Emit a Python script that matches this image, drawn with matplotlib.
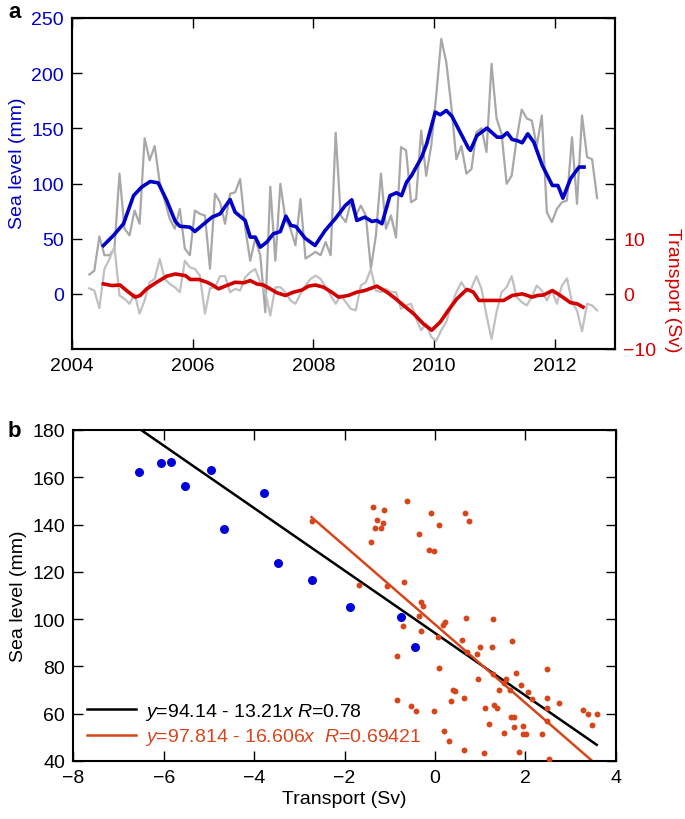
import numpy as np
import matplotlib
matplotlib.use("Agg")
import matplotlib.pyplot as plt

plt.rcParams['font.family'] = ['Liberation Sans', 'DejaVu Sans']
plt.rcParams['mathtext.fontset'] = 'custom'
plt.rcParams['mathtext.rm'] = 'Liberation Sans'
plt.rcParams['mathtext.it'] = 'Liberation Sans:italic'

# ---------------- Panel a data (monthly, starting ~Apr 2004) ----------------
t0 = 2004.287
sea_level_raw = [17.5, 21, 52, 35, 35, 41, 109, 59, 53, 75.5, 63.5, 141, 121, 134, 101, 84.6,
                 68, 59, 77, 41, 35, 75.5, 72.5, 71, 22.7,
                 90.7, 83, 63.5, 90.7, 92, 104, 60, 30, 50, 35, -16.6, 97, 30, 99.7, 68, 59,
                 44, 86, 32, 35, 38, 35, 47, 35, 146,
                 71, 65, 83, 71, 80, 71, 22.7, 53, 109, 59, 71, 51, 133, 130, 83, 86, 148,
                 107, 134, 180, 231, 210, 170, 122, 134, 109, 113,
                 146.6, 150, 128.5, 208.5, 159, 145, 99.7, 107, 140.5, 167, 159, 157, 134,
                 161.6, 74, 65, 77, 83, 84.6, 142, 81.6, 161.6, 124, 122, 86.7]
transport_raw = [1.0, 0.6, -2.6, 4.5, 6.3, 8.5, -0.3, -0.9, -1.8, 0, -3.6, -1.2, 2.1, 2.7, 6.3,
                 2.7, 1.8, 1.2, 0.3, 6.0, 4.8, 4.5, 3.3, -3.6, 1.0,
                 1.2, 3.2, 3.2, 0.3, 0.9, 0.6, 3.0, 3.9, 4.5, 2.1, 0.3, -3.9, 1.2, 1.2, 0.3,
                 -1.2, -1.8, 0, 1.5, 2.7, 3.3, 2.7, 1.2, -0.3, -1.8,
                 -0.3, -1.5, -2.7, -3.0, 1.5, 2.1, 4.5, 0.6, 0.3, 0.9, 0.3, 0.3, -2.7, -2.1,
                 -1.8, -4.5, -6.6, -5.4, -7.8, -8.5, -6.6, -5.1, -2.1, 0.3, 2.1, 0.6, 1.0,
                 3.2, 0.9, -3.9, -8.2, -3.3, 0.3, 1.2, 3.2, -0.6, -1.5, -2.1, -0.6, 1.5, 0.6,
                 -1.2, 0.6, -1.8, 1.5, 2.8, -1.5, -3.0, -6.8, -1.8, -2.1, -3.0]

sl_smooth_month = [2.8, 4.8, 6.8, 8.8, 10.4, 12.1, 13.7, 15.4, 17.1, 18.0, 20.0, 21.0, 22.4, 24.4,
                   26, 28, 29, 31, 32, 33, 34, 35.3, 36.6, 38, 39.1, 40.1, 41.1, 42.9, 44.9,
                   46.9, 48.9, 50.9, 52.2, 53.2, 54.8, 56.2, 57.2, 58.2, 59.8, 61.1, 62.1, 63.1,
                   64.1, 66.1, 67.1, 68.8, 69.8, 71, 72.1, 74.1, 75.4, 75.8, 77.1, 79.1, 81.1,
                   82.1, 83.1, 84.1, 85.1, 86.1, 87.2, 88.4, 90.1, 92.1, 93.2, 94.2, 95.7, 97.4, 98.4]
sl_smooth = [43.8, 52.9, 63.5, 89, 96.7, 101.8, 100.6, 84.6, 65.6, 61.3, 60.4, 56.5, 61.9, 69.5,
             72.5, 85.5, 74, 66.5, 51.4, 51.4, 42.3, 46.9, 54.4, 56.5, 70.4, 62, 61, 50.5, 43.8,
             57.4, 68, 80, 85.2, 66.5, 69.5, 65.6, 66.5, 63.5, 89, 91.6, 89, 101.3,
             107.3, 123.9, 136, 164.7, 162.3, 166.2, 161.1, 143.5, 132.1, 130, 143.5, 150.2, 142,
             142, 146, 139.9, 138.9, 136.9, 145, 137.5, 116.3, 98.2, 98.2, 86.7, 104.3, 114.9, 114.9]

tr_smooth_month = [2.8, 4.5, 6.1, 7.4, 9.1, 10.1, 11.4, 13.4, 15.4, 17.1, 19.1, 20.1, 21.8, 23.4,
                   24.5, 25.7, 27.3, 29, 30.7, 32, 33.3, 34.6, 36, 37.3, 39, 40.6, 42.3, 43.6,
                   45, 46.6, 48.2, 49.6, 51.5, 53.2, 54.8, 57.2, 59.2, 60.8, 62.5, 64.5, 66.4,
                   68.1, 69.8, 71.4, 73.1, 75.1, 76.4, 77.5, 79.1, 82.4, 84.1, 86.1, 88.1, 89.1,
                   90.4, 92.1, 93.7, 95.7, 97.0, 98.2]
tr_smooth = [1.8, 1.5, 1.6, 0.6, -0.6, -0.3, 0.9, 2.1, 3.2, 3.6, 3.3, 2.6, 2.6, 2.1,
             1.6, 0.9, 1.5, 2.1, 2.0, 2.4, 1.8, 1.6, 0.9, 0.2, -0.3, 0.3, 0.7, 1.4,
             1.6, 1.2, 0.3, -0.6, -0.3, 0.3, 0.6, 1.4, 0.3, -0.8, -2.1, -3.6, -5.4,
             -6.6, -5.1, -3.0, -0.9, 0.8, 0.3, -1.2, -1.2, -1.2, -0.3, 0, -0.6, -0.3,
             -0.2, 0.6, -0.3, -1.6, -1.8, -2.4]

year_ticks = [2004, 2006, 2008, 2010, 2012]
sl_ticks = [0, 50, 100, 150, 200, 250]
tr_ticks = [-10, 0, 10, 20, 30, 40, 50]
tr_ticklabels = ['\u221210', '0', '10', '', '', '', '']

# ---------------- Panel b data ----------------
blue_x = [-6.54, -6.05, -5.84, -5.53, -4.95, -4.67, -3.79, -3.48, -2.72, -1.87, -0.76, -0.44]
blue_y = [162.1, 166.0, 166.3, 156.5, 163.2, 138.3, 153.5, 123.9, 116.5, 105.3, 101.0, 88.2]

orange_x = [-2.73, -1.36, -1.13, -0.62, -0.09, 0.09, -1.27, -1.15, -1.32, -1.20, -0.36, -1.42,
            -0.12, -0.03, -0.69, -1.67, -1.06, -0.30, -0.27, -0.36, 0.23, 0.18, -0.70, -0.31,
            0.06, 0.61, -0.83, 0.08, 0.39, 0.44, 0.36, -0.83, -0.52, -0.41, -0.01, 0.20, 0.31,
            0.67, 0.75, 0.68, 1.29, 1.71, 0.99, 1.27, 0.72, 0.94, 1.80, 2.47, 0.96, 1.28, 1.58,
            1.52, 1.41, 1.67, 1.90, 2.07, 2.15, 0.65, 2.47, 2.75, 1.11, 1.31, 1.37, 2.47, 3.28,
            3.38, 3.58, 3.48, 2.49, 1.68, 1.75, 1.19, 1.75, 1.96, 1.52, 1.95, 2.01, 2.36, 0.64,
            1.08, 1.86, 2.52]
orange_y = [141.6, 147.6, 146.2, 150.0, 144.8, 139.9, 141.8, 140.6, 138.5, 138.4, 135.9, 132.6,
            129.2, 128.8, 115.8, 114.3, 113.9, 107.1, 105.4, 101.4, 98.6, 97.5, 96.9, 95.1,
            92.3, 91.0, 84.5, 79.5, 70.1, 69.5, 65.4, 65.8, 63.4, 61.1, 61.0, 52.8, 48.4,
            144.8, 141.6, 100.6, 99.9, 90.6, 88.3, 88.1, 85.9, 85.1, 77.2, 79.0, 74.5, 76.8, 74.5,
            72.8, 70.1, 70.1, 72.0, 69.0, 66.2, 66.8, 66.8, 64.5, 62.5, 63.7, 62.5, 62.5, 61.7,
            59.9, 59.8, 55.2, 57.0, 58.5, 58.7, 55.6, 54.2, 54.8, 51.8, 51.3, 51.5, 51.3, 44.6,
            43.5, 43.8, 41.0]

fit_all = (94.14, -13.21)
fit_orange = (97.814, -16.606)
label_all = r"$y$=94.14 - 13.21$x$ $R$=0.78"
label_orange = r"$y$=97.814 - 16.606$x$  $R$=0.69421"

BLUE = '#0000C8'
RED = '#D20000'
ORANGE = '#D6461C'
GRAY1 = '#A8A8A8'
GRAY2 = '#C0C0C0'
FS = 14

fig = plt.figure(figsize=(6.85, 8.2), dpi=100)

# ---------------- Panel a ----------------
ax = fig.add_axes([72/685, 1-350/820, 543/685, 331/820])
ax2 = ax.twinx()
months = np.arange(len(sea_level_raw))
t_raw = t0 + months / 12.0
t_sl = t0 + np.array(sl_smooth_month) / 12.0
t_tr = t0 + np.array(tr_smooth_month) / 12.0

ax.plot(t_raw, sea_level_raw, color=GRAY1, lw=1.6, zorder=1)
ax.plot(t_sl, sl_smooth, color=BLUE, lw=2.6, zorder=3, solid_joinstyle='round')
ax2.plot(t_raw, transport_raw, color=GRAY2, lw=1.6, zorder=1)
ax2.plot(t_tr, tr_smooth, color=RED, lw=2.6, zorder=3, solid_joinstyle='round')

ax.set_xlim(2004, 2013)
ax.set_ylim(-50, 250)
ax2.set_ylim(-10, 50)
ax.set_xticks(year_ticks)
ax.set_xticklabels([str(y) for y in year_ticks])
ax.set_yticks(sl_ticks)
ax2.set_yticks(tr_ticks)
ax2.set_yticklabels(tr_ticklabels)
ax.tick_params(axis='x', direction='in', length=7, width=1, top=True, labelsize=FS, pad=6)
ax.tick_params(axis='y', direction='in', length=7, width=1, right=False, labelsize=FS,
               labelcolor=BLUE, pad=6)
ax2.tick_params(axis='y', direction='in', length=7, width=1, labelsize=FS, labelcolor=RED, pad=6)
ax.set_ylabel('Sea level (mm)', color=BLUE, fontsize=FS, va='center')
ax.yaxis.set_label_coords(-0.1, 0.565)
ax2.set_ylabel('Transport (Sv)', color=RED, fontsize=FS, rotation=270, va='center')
ax2.yaxis.set_label_coords(1.105, 0.18)
for a in (ax, ax2):
    for s in a.spines.values():
        s.set_linewidth(1.5)

fig.text(8/685, 1-12/820, 'a', fontsize=16, fontweight='bold', va='center', ha='left')

# ---------------- Panel b ----------------
bx = fig.add_axes([73.3/685, 1-762/820, 542.4/685, 331/820])
xmin_all = min(min(blue_x), min(orange_x))
xmax_all = max(max(blue_x), max(orange_x))
xa = np.array([xmin_all, xmax_all])
xo = np.array([min(orange_x), max(orange_x)])
bx.plot(xa, fit_all[0] + fit_all[1] * xa, color='black', lw=1.8, label=label_all, zorder=2)
bx.plot(xo, fit_orange[0] + fit_orange[1] * xo, color=ORANGE, lw=1.8, label=label_orange, zorder=2)
bx.scatter(orange_x, orange_y, s=18, color=ORANGE, zorder=3, linewidths=0)
bx.scatter(blue_x, blue_y, s=42, color='#0000DD', zorder=4, linewidths=0)

bx.set_xlim(-8, 4)
bx.set_ylim(40, 180)
bx.set_xticks([-8, -6, -4, -2, 0, 2, 4])
bx.set_yticks(range(40, 181, 20))
bx.tick_params(direction='in', length=7, width=1, top=True, right=True, labelsize=FS, pad=6)
bx.set_xlabel('Transport (Sv)', fontsize=FS, labelpad=3)
bx.set_ylabel('Sea level (mm)', fontsize=FS, labelpad=4)
for s in bx.spines.values():
    s.set_linewidth(1.5)

leg = bx.legend(loc='lower left', frameon=False, fontsize=FS, handlelength=2.5,
                handletextpad=0.5, labelspacing=0.25, borderaxespad=0.3)
for txt, c in zip(leg.get_texts(), ['black', ORANGE]):
    txt.set_color(c)

fig.text(8/685, 1-432/820, 'b', fontsize=16, fontweight='bold', va='center', ha='left')

fig.savefig('out.png', dpi=100)
